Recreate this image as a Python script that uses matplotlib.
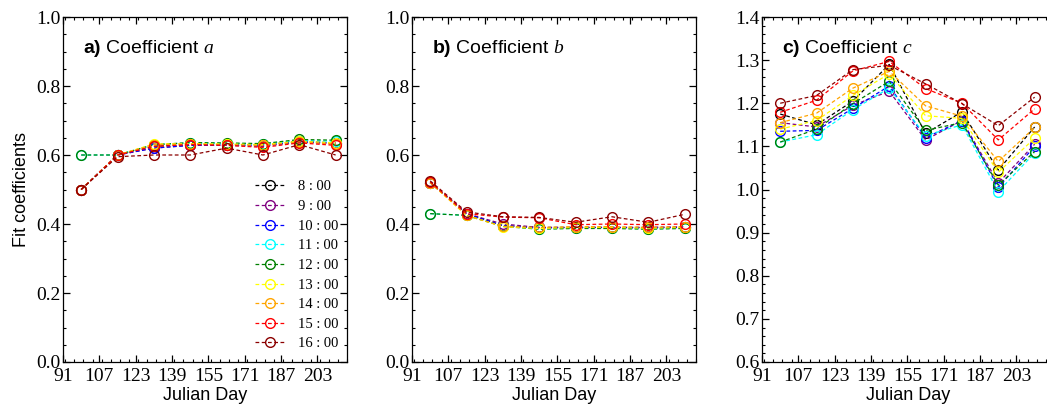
import matplotlib
matplotlib.use("Agg")
import matplotlib.pyplot as plt
from matplotlib.ticker import MultipleLocator

plt.rcParams['mathtext.fontset'] = 'custom'
plt.rcParams['mathtext.bf'] = 'Liberation Sans:bold'
plt.rcParams['mathtext.rm'] = 'Liberation Sans'
plt.rcParams['mathtext.it'] = 'Liberation Serif:italic'

days = [99, 115, 131, 147, 163, 179, 195, 211]
hours = ['8 : 00', '9 : 00', '10 : 00', '11 : 00', '12 : 00',
         '13 : 00', '14 : 00', '15 : 00', '16 : 00']
colors = ['black', 'purple', 'blue', 'cyan', 'green',
          'yellow', 'orange', 'red', 'darkred']

coef_a = [
    [0.50, 0.60, 0.625, 0.630, 0.630, 0.630, 0.640, 0.635],
    [0.50, 0.60, 0.620, 0.628, 0.628, 0.625, 0.638, 0.632],
    [0.50, 0.60, 0.620, 0.628, 0.630, 0.628, 0.638, 0.635],
    [0.60, 0.60, 0.630, 0.635, 0.633, 0.632, 0.642, 0.640],
    [0.60, 0.60, 0.630, 0.636, 0.635, 0.633, 0.645, 0.643],
    [0.50, 0.60, 0.632, 0.633, 0.632, 0.630, 0.640, 0.635],
    [0.50, 0.60, 0.630, 0.632, 0.630, 0.628, 0.638, 0.632],
    [0.50, 0.60, 0.625, 0.630, 0.628, 0.622, 0.635, 0.628],
    [0.50, 0.595, 0.600, 0.600, 0.620, 0.600, 0.630, 0.600],
]
coef_b = [
    [0.520, 0.430, 0.395, 0.390, 0.390, 0.390, 0.390, 0.390],
    [0.520, 0.430, 0.400, 0.390, 0.390, 0.390, 0.390, 0.392],
    [0.520, 0.430, 0.395, 0.388, 0.390, 0.390, 0.388, 0.390],
    [0.430, 0.425, 0.393, 0.386, 0.388, 0.388, 0.386, 0.388],
    [0.430, 0.425, 0.393, 0.385, 0.387, 0.387, 0.385, 0.387],
    [0.520, 0.425, 0.392, 0.387, 0.390, 0.390, 0.388, 0.390],
    [0.520, 0.425, 0.393, 0.390, 0.392, 0.392, 0.390, 0.392],
    [0.522, 0.430, 0.420, 0.418, 0.398, 0.400, 0.398, 0.400],
    [0.525, 0.435, 0.421, 0.419, 0.405, 0.421, 0.405, 0.428],
]
coef_c = [
    [1.175, 1.150, 1.205, 1.290, 1.130, 1.180, 1.045, 1.145],
    [1.155, 1.145, 1.195, 1.228, 1.115, 1.160, 1.015, 1.105],
    [1.135, 1.137, 1.188, 1.240, 1.120, 1.160, 1.005, 1.100],
    [1.110, 1.127, 1.185, 1.235, 1.125, 1.150, 0.995, 1.085],
    [1.110, 1.140, 1.199, 1.251, 1.137, 1.155, 1.010, 1.088],
    [1.140, 1.160, 1.218, 1.268, 1.171, 1.165, 1.040, 1.119],
    [1.155, 1.177, 1.235, 1.274, 1.194, 1.170, 1.065, 1.144],
    [1.179, 1.207, 1.275, 1.297, 1.234, 1.200, 1.115, 1.187],
    [1.200, 1.218, 1.278, 1.288, 1.245, 1.199, 1.148, 1.214],
]

xticks = [91, 107, 123, 139, 155, 171, 187, 203]

W, H = 1047, 413
fig = plt.figure(figsize=(W / 100, H / 100), dpi=100)

lefts = [63, 412, 762]
widths = [284, 284, 292]
px_per_day = 284 / 125.0
ax_top, ax_bot = 17, 362
panels = [
    (coef_a, (0.0, 1.0), 0.2, 0.05, r'$\mathbf{a)}$ Coefficient $\mathit{a}$'),
    (coef_b, (0.0, 1.0), 0.2, 0.05, r'$\mathbf{b)}$ Coefficient $\mathit{b}$'),
    (coef_c, (0.6, 1.4), 0.1, 0.02, r'$\mathbf{c)}$ Coefficient $\mathit{c}$'),
]

serif = 'Liberation Serif'
sans = 'Liberation Sans'

axes = []
for i, (data, ylim, major, minor, title) in enumerate(panels):
    ax = fig.add_axes([lefts[i] / W, 1 - ax_bot / H, widths[i] / W, (ax_bot - ax_top) / H])
    axes.append(ax)
    for vals, col, lab in zip(data, colors, hours):
        ax.plot(days, vals, linestyle='--', dashes=(3, 2), color=col, lw=0.9,
                marker='o', markersize=7, markerfacecolor='none',
                markeredgewidth=1.0, label=lab)
    ax.set_xlim(91, 91 + widths[i] / px_per_day)
    ax.set_ylim(*ylim)
    ax.set_xticks(xticks)
    ax.xaxis.set_minor_locator(MultipleLocator(4))
    ax.yaxis.set_major_locator(MultipleLocator(major))
    ax.yaxis.set_minor_locator(MultipleLocator(minor))
    ax.tick_params(which='both', direction='in', top=True, right=True)
    ax.tick_params(which='major', length=5, width=0.9, labelsize=14)
    ax.tick_params(axis='y', which='major', pad=2)
    ax.tick_params(axis='x', which='major', pad=4)
    ax.tick_params(which='minor', length=2.5, width=0.8)
    for lab in ax.get_xticklabels() + ax.get_yticklabels():
        lab.set_fontfamily(serif)
    ax.set_xlabel('Julian Day', fontfamily=sans, fontsize=13, labelpad=2)
    ax.text(0.07, 0.91, title, transform=ax.transAxes, fontsize=14,
            fontfamily=sans, va='center', ha='left')
    for sp in ax.spines.values():
        sp.set_linewidth(0.9)

axes[0].set_ylabel('Fit coefficients', fontfamily=sans, fontsize=13, labelpad=4)
leg = axes[0].legend(loc='lower right', bbox_to_anchor=(1.0, 0.008), frameon=False,
                     prop={'family': serif, 'size': 10.5}, handlelength=2.0,
                     handletextpad=0.9, labelspacing=0.44, borderpad=0.1)

fig.savefig('out.png', dpi=100)
